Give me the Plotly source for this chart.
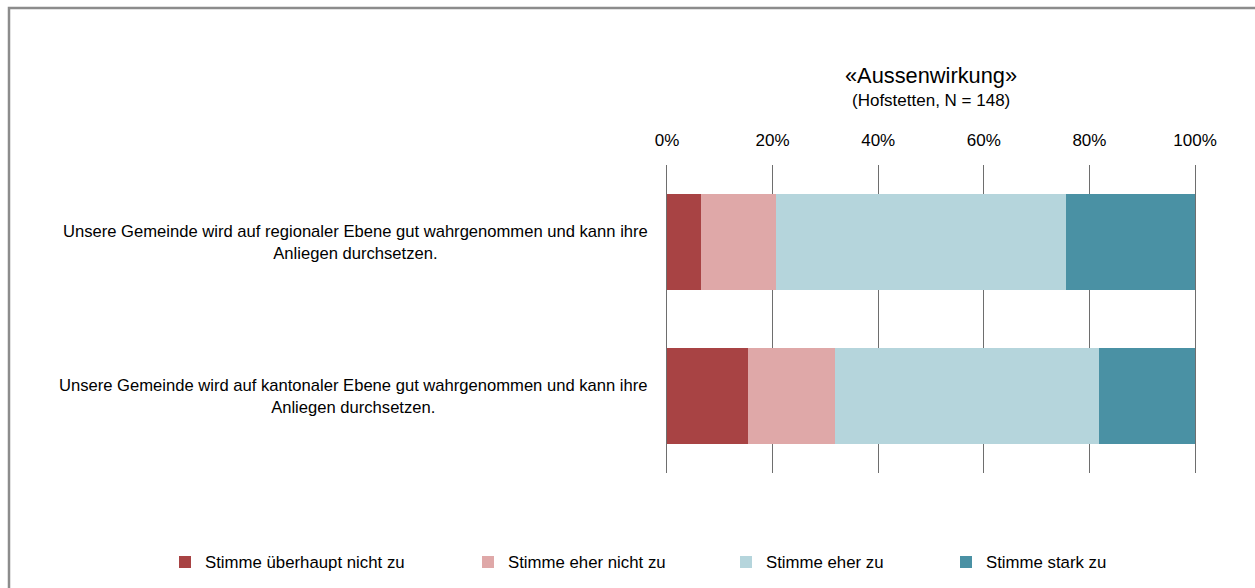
import plotly.graph_objects as go

categories = [
    "Unsere Gemeinde wird auf regionaler Ebene gut wahrgenommen und kann ihre<br>Anliegen durchsetzen.",
    "Unsere Gemeinde wird auf kantonaler Ebene gut wahrgenommen und kann ihre<br>Anliegen durchsetzen.",
]
cat_ids = ["regional", "kantonal"]
series_names = ["Stimme überhaupt nicht zu", "Stimme eher nicht zu", "Stimme eher zu", "Stimme stark zu"]
values = {
    "Stimme überhaupt nicht zu": [6.5, 15.3],
    "Stimme eher nicht zu": [14.1, 16.6],
    "Stimme eher zu": [55.0, 50.0],
    "Stimme stark zu": [24.4, 18.1],
}
colors = ["#A84344", "#DFA8A8", "#B5D5DC", "#4A91A4"]
tick_vals = [0, 20, 40, 60, 80, 100]
tick_text = ["0%", "20%", "40%", "60%", "80%", "100%"]
title = "«Aussenwirkung»"
subtitle = "(Hofstetten, N = 148)"

FONT = "Liberation Sans, Arial, sans-serif"
W, H = 1255, 588
L, R, T, B = 667, 60, 165, 115
pw, ph = W - L - R, H - T - B

def px_x(px):
    return (px - L) / pw

def px_y(py):
    return (H - B - py) / ph

fig = go.Figure()
legend_x = [173, 476, 734, 954]
for i, name in enumerate(series_names):
    lg = "legend" if i == 0 else f"legend{i+1}"
    fig.add_trace(go.Bar(
        y=cat_ids, x=values[name], name=name, orientation="h",
        marker=dict(color=colors[i], line=dict(width=0)),
        legend=lg, hoverinfo="skip",
    ))

legend_common = dict(
    orientation="h", yanchor="middle", xanchor="left",
    xref="container", yref="container",
    font=dict(family=FONT, size=16.8, color="#000000"),
    bgcolor="rgba(0,0,0,0)", itemwidth=30, tracegroupgap=0,
)
layout_legends = {}
for i in range(4):
    key = "legend" if i == 0 else f"legend{i+1}"
    layout_legends[key] = dict(legend_common, x=(legend_x[i] - 8) / W, y=1 - 562 / H)

annotations = [
    dict(text=title, x=0.5, y=px_y(75), xref="paper", yref="paper", showarrow=False,
         font=dict(family=FONT, size=21.8, color="#000000"), xanchor="center", yanchor="middle"),
    dict(text=subtitle, x=0.5, y=px_y(101), xref="paper", yref="paper", showarrow=False,
         font=dict(family=FONT, size=17, color="#000000"), xanchor="center", yanchor="middle"),
]
for cid, label in zip(cat_ids, categories):
    annotations.append(dict(
        text=label, x=px_x(650), y=cid, xref="paper", yref="y", showarrow=False,
        xanchor="right", yanchor="middle", align="center",
        font=dict(family=FONT, size=16.6, color="#000000"),
    ))

shapes = [dict(
    type="rect", xref="paper", yref="paper",
    x0=px_x(9), x1=px_x(1265), y0=px_y(600), y1=px_y(8),
    line=dict(color="#8C8C8C", width=2.5), fillcolor="rgba(0,0,0,0)", layer="below",
)]

fig.update_layout(
    width=W, height=H,
    margin=dict(l=L, r=R, t=T, b=B, pad=0, autoexpand=False),
    barmode="stack", bargap=0.375,
    paper_bgcolor="white", plot_bgcolor="white",
    font=dict(family=FONT, size=17, color="#000000"),
    showlegend=True,
    annotations=annotations,
    shapes=shapes,
    xaxis=dict(
        side="top", range=[0, 100], tickvals=tick_vals, ticktext=tick_text,
        showgrid=True, gridcolor="#6E6E6E", gridwidth=1, zeroline=False,
        showline=False, ticks="outside", ticklen=11, tickcolor="rgba(0,0,0,0)",
        tickfont=dict(family=FONT, size=17, color="#000000"), fixedrange=True,
    ),
    yaxis=dict(
        autorange="reversed", showticklabels=False, showgrid=False, zeroline=False,
        showline=True, mirror=True, linecolor="#6E6E6E", linewidth=1, fixedrange=True,
    ),
    **layout_legends,
)

fig.write_html(
    "out.html",
    config={"displayModeBar": False},
    post_script="document.body.style.margin='0';document.body.style.padding='0';",
)
